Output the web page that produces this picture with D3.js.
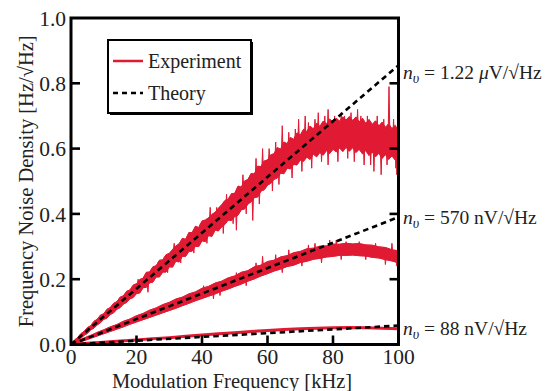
<!DOCTYPE html>
<html>
<head>
<meta charset="utf-8">
<script src="https://cdn.jsdelivr.net/npm/d3@7"></script>
<style>
	body { margin: 0; background: #fff; }
	svg { display: block; font-family: "Liberation Serif", "Times New Roman", serif; }
</style>
</head>
<body>
<svg id="chart"></svg>
<script>
// data
const xTicks = [0, 20, 40, 60, 80, 100];
const yTicks = [0.0, 0.2, 0.4, 0.6, 0.8, 1.0];

// experiment, 1.22 uV/rtHz : band envelope every 1 kHz
const topHi = [0.003, 0.013, 0.021, 0.033, 0.040, 0.052, 0.057, 0.071, 0.077, 0.090,
	0.094, 0.108, 0.113, 0.126, 0.131, 0.145, 0.149, 0.163, 0.167, 0.182,
	0.186, 0.199, 0.203, 0.221, 0.222, 0.238, 0.241, 0.258, 0.259, 0.275,
	0.279, 0.291, 0.302, 0.308, 0.325, 0.322, 0.343, 0.343, 0.362, 0.358,
	0.378, 0.381, 0.388, 0.398, 0.405, 0.417, 0.428, 0.441, 0.445, 0.462,
	0.463, 0.485, 0.482, 0.501, 0.505, 0.524, 0.522, 0.546, 0.545, 0.562,
	0.565, 0.581, 0.584, 0.603, 0.598, 0.620, 0.615, 0.634, 0.628, 0.648,
	0.641, 0.659, 0.652, 0.669, 0.660, 0.678, 0.668, 0.684, 0.676, 0.690,
	0.682, 0.693, 0.684, 0.697, 0.688, 0.698, 0.686, 0.697, 0.682, 0.693,
	0.677, 0.689, 0.674, 0.685, 0.669, 0.681, 0.665, 0.676, 0.661, 0.671,
	0.652];
const topLo = [0.000, 0.004, 0.012, 0.019, 0.028, 0.034, 0.045, 0.050, 0.060, 0.067,
	0.077, 0.081, 0.092, 0.097, 0.108, 0.113, 0.124, 0.129, 0.140, 0.144,
	0.156, 0.158, 0.174, 0.175, 0.189, 0.191, 0.207, 0.207, 0.222, 0.222,
	0.238, 0.237, 0.255, 0.253, 0.270, 0.270, 0.285, 0.286, 0.301, 0.300,
	0.318, 0.315, 0.334, 0.331, 0.350, 0.348, 0.360, 0.368, 0.381, 0.380,
	0.392, 0.396, 0.413, 0.415, 0.430, 0.437, 0.450, 0.452, 0.470, 0.474,
	0.488, 0.494, 0.506, 0.510, 0.525, 0.523, 0.540, 0.538, 0.552, 0.550,
	0.565, 0.561, 0.574, 0.567, 0.583, 0.575, 0.588, 0.580, 0.594, 0.585,
	0.598, 0.590, 0.602, 0.591, 0.604, 0.592, 0.603, 0.588, 0.598, 0.584,
	0.594, 0.579, 0.590, 0.575, 0.586, 0.570, 0.582, 0.567, 0.578, 0.565,
	0.575];
// [kHz, value] single spikes sticking out of the band
const topSpikes = [[20.5, 0.20], [23.5, 0.16], [26.5, 0.25], [29.5, 0.22], [31.5, 0.31],
	[33.5, 0.25], [35.5, 0.33], [37.5, 0.28], [39.5, 0.37], [41.5, 0.31],
	[42.5, 0.42], [44.5, 0.42], [46.5, 0.34], [47.5, 0.46], [49.5, 0.37],
	[50.5, 0.35], [52.5, 0.52], [53.5, 0.40], [55.5, 0.38], [56.5, 0.57],
	[57.5, 0.43], [58.5, 0.60], [60.5, 0.60], [61.5, 0.47], [62.5, 0.62],
	[63.5, 0.49], [64.5, 0.67], [66.5, 0.65], [67.5, 0.51], [68.5, 0.66],
	[69.5, 0.69], [70.5, 0.53], [71.5, 0.70], [72.5, 0.68], [73.5, 0.54],
	[74.5, 0.69], [75.5, 0.71], [76.5, 0.56], [77.5, 0.70], [78.5, 0.72],
	[78.5, 0.55], [80.5, 0.70], [81.5, 0.56], [82.5, 0.71], [83.5, 0.70],
	[84.5, 0.57], [85.5, 0.71], [86.5, 0.56], [87.5, 0.72], [88.5, 0.70],
	[89.5, 0.55], [90.5, 0.70], [91.5, 0.55], [92.5, 0.53], [93.5, 0.70],
	[94.7, 0.52], [95.5, 0.69], [96.5, 0.55], [97.1, 0.79], [98.5, 0.69],
	[99.2, 0.54], [99.5, 0.52]];

// experiment, 570 nV/rtHz : envelope every 2 kHz
const midHi = [0.002, 0.011, 0.020, 0.028, 0.037, 0.045, 0.054, 0.061, 0.071, 0.078,
	0.088, 0.095, 0.105, 0.112, 0.122, 0.129, 0.139, 0.145, 0.155, 0.161,
	0.172, 0.178, 0.188, 0.194, 0.204, 0.210, 0.221, 0.226, 0.238, 0.243,
	0.254, 0.258, 0.268, 0.272, 0.281, 0.285, 0.293, 0.295, 0.301, 0.302,
	0.307, 0.307, 0.310, 0.308, 0.309, 0.305, 0.304, 0.299, 0.297, 0.290,
	0.287];
const midLo = [0.000, 0.005, 0.012, 0.019, 0.026, 0.033, 0.040, 0.047, 0.054, 0.062,
	0.069, 0.076, 0.083, 0.090, 0.097, 0.104, 0.111, 0.119, 0.126, 0.134,
	0.141, 0.148, 0.155, 0.163, 0.170, 0.178, 0.185, 0.194, 0.201, 0.210,
	0.217, 0.225, 0.231, 0.239, 0.243, 0.251, 0.255, 0.261, 0.264, 0.268,
	0.270, 0.273, 0.273, 0.274, 0.272, 0.271, 0.267, 0.265, 0.260, 0.256,
	0.250];
const midSpikes = [[30.5, 0.13], [40.5, 0.18], [43.5, 0.14], [45.5, 0.15], [50.5, 0.22],
	[53.5, 0.18], [56.5, 0.25], [58.5, 0.27], [62.5, 0.275], [64.5, 0.22],
	[66.5, 0.29], [70.5, 0.24], [72.5, 0.305], [74.5, 0.31], [76.5, 0.25],
	[79, 0.32], [81, 0.32], [82.5, 0.26], [84, 0.315], [88, 0.315],
	[90, 0.26], [93, 0.31], [96, 0.245], [98, 0.31], [99.5, 0.24]];

// experiment, 88 nV/rtHz : every 5 kHz
const lowVals = [0.000, 0.004, 0.007, 0.011, 0.014, 0.018, 0.021, 0.025, 0.029, 0.033,
	0.036, 0.040, 0.043, 0.046, 0.048, 0.050, 0.051, 0.052, 0.051, 0.050,
	0.048];

// theory lines: value at 0 and 100 kHz
const theoryX = [0, 100];
const theoryTop = [0, 0.855];
const theoryMid = [0, 0.39];
const theoryLow = [0, 0.058];

const noiseNum = ["1.22", "570", "88"];
const noisePrefix = ["\u03BC", "n", "n"];
const noiseLabelY = [0.835, 0.39, 0.05];

const RED = "#e11a34";

const width = 557;
const height = 391;
const pLeft = 71, pRight = 398.5, pTop = 18, pBottom = 344.5;

const svg = d3.select("#chart")
              .attr("width", width)
              .attr("height", height);

const xScale = d3.scaleLinear([0, 100], [pLeft, pRight]);
const yScale = d3.scaleLinear([0, 1], [pBottom, pTop]);

// experiment bands
const band = (hi, lo, step) => d3.area()
	.x((d, i) => xScale(i * step))
	.y0((d, i) => yScale(lo[i]))
	.y1((d, i) => yScale(hi[i]));

const gExp = svg.append("g").attr("class", "experiment");

[[topHi, topLo, 1], [midHi, midLo, 2]].forEach(([hi, lo, step]) => {
	gExp.append("path")
	    .attr("d", band(hi, lo, step)(hi))
	    .attr("fill", RED)
	    .attr("stroke", RED)
	    .attr("stroke-width", 0.8);
	// jagged edges
	[hi, lo].forEach(arr => {
		gExp.append("path")
		    .attr("d", d3.line().x((d, i) => xScale(i * step)).y(d => yScale(d))(arr))
		    .attr("fill", "none")
		    .attr("stroke", RED)
		    .attr("stroke-width", 1);
	});
});

function spikes(list, hi, lo, step) {
	list.forEach(([k, v]) => {
		const i = Math.round(k / step);
		const mid = (hi[i] + lo[i]) / 2;
		gExp.append("path")
		    .attr("d", d3.line()([[xScale(k - 0.3), yScale(mid)], [xScale(k), yScale(v)], [xScale(k + 0.3), yScale(mid)]]))
		    .attr("fill", RED)
		    .attr("stroke", RED)
		    .attr("stroke-width", 1);
	});
}
spikes(topSpikes, topHi, topLo, 1);
spikes(midSpikes, midHi, midLo, 2);

gExp.append("path")
    .attr("d", d3.line().x((d, i) => xScale(i * 5)).y(d => yScale(d))(lowVals))
    .attr("fill", "none")
    .attr("stroke", RED)
    .attr("stroke-width", 3);

// theory
const gTh = svg.append("g").attr("class", "theory");
[theoryTop, theoryMid, theoryLow].forEach(t => {
	gTh.append("path")
	   .attr("d", d3.line().x((d, i) => xScale(theoryX[i])).y(d => yScale(d))(t))
	   .attr("fill", "none")
	   .attr("stroke", "#000")
	   .attr("stroke-width", 2.6)
	   .attr("stroke-dasharray", "5.5,4");
});

// frame + inward ticks
const tickLen = 9;
const gAx = svg.append("g").attr("stroke", "#000").attr("stroke-width", 2.6);
yTicks.slice(1, -1).forEach(v => {
	gAx.append("line").attr("x1", pLeft).attr("x2", pLeft + tickLen).attr("y1", yScale(v)).attr("y2", yScale(v));
	gAx.append("line").attr("x1", pRight).attr("x2", pRight - tickLen).attr("y1", yScale(v)).attr("y2", yScale(v));
});
xTicks.slice(1, -1).forEach(v => {
	gAx.append("line").attr("x1", xScale(v)).attr("x2", xScale(v)).attr("y1", pBottom).attr("y2", pBottom - tickLen);
});
svg.append("rect")
   .attr("x", pLeft).attr("y", pTop)
   .attr("width", pRight - pLeft).attr("height", pBottom - pTop)
   .attr("fill", "none")
   .attr("stroke", "#000")
   .attr("stroke-width", 3);

// tick labels
svg.append("g")
   .selectAll("text")
   .data(yTicks)
   .join("text")
   .attr("x", pLeft - 5)
   .attr("y", d => yScale(d))
   .attr("dy", "0.36em")
   .attr("text-anchor", "end")
   .attr("font-size", 21.5)
   .attr("fill", "#222")
   .text(d => d.toFixed(1));

svg.append("g")
   .selectAll("text")
   .data(xTicks)
   .join("text")
   .attr("x", d => xScale(d))
   .attr("y", 364)
   .attr("text-anchor", "middle")
   .attr("font-size", 21.5)
   .attr("fill", "#222")
   .text(d => d);

// axis titles
svg.append("text")
   .attr("x", 232)
   .attr("y", 388)
   .attr("text-anchor", "middle")
   .attr("font-size", 20.5)
   .attr("fill", "#222")
   .text("Modulation Frequency [kHz]");

svg.append("text")
   .attr("transform", `translate(33, ${(pTop + pBottom) / 2}) rotate(-90)`)
   .attr("text-anchor", "middle")
   .attr("font-size", 20.5)
   .attr("fill", "#222")
   .text("Frequency Noise Density [Hz/\u221AHz]");

// legend
const lg = svg.append("g");
lg.append("rect").attr("x", 110).attr("y", 42).attr("width", 143).attr("height", 73).attr("fill", "#000");
lg.append("rect").attr("x", 108).attr("y", 40).attr("width", 143).attr("height", 73)
  .attr("fill", "#fff").attr("stroke", "#000").attr("stroke-width", 2);
lg.append("line").attr("x1", 113).attr("x2", 143).attr("y1", 61).attr("y2", 61)
  .attr("stroke", RED).attr("stroke-width", 2.5);
lg.append("line").attr("x1", 113).attr("x2", 143).attr("y1", 93).attr("y2", 93)
  .attr("stroke", "#000").attr("stroke-width", 2.5).attr("stroke-dasharray", "5,4");
lg.append("text").attr("x", 148).attr("y", 68).attr("font-size", 20).attr("fill", "#222").text("Experiment");
lg.append("text").attr("x", 148).attr("y", 100).attr("font-size", 20).attr("fill", "#222").text("Theory");

// n_v annotations
const ann = svg.append("g")
               .selectAll("text")
               .data(noiseNum)
               .join("text")
               .attr("x", 403)
               .attr("y", (d, i) => yScale(noiseLabelY[i]) + 7)
               .attr("font-size", 19.5)
               .attr("fill", "#222");
ann.append("tspan").attr("font-style", "italic").text("n");
ann.append("tspan").attr("font-style", "italic").attr("font-size", 14).attr("dy", 4).text("\u03C5");
ann.append("tspan").attr("dy", -4).text(d => " = " + d + " ");
ann.append("tspan").attr("font-style", (d, i) => i === 0 ? "italic" : null).text((d, i) => noisePrefix[i]);
ann.append("tspan").text("V/\u221AHz");
</script>
</body>
</html>
